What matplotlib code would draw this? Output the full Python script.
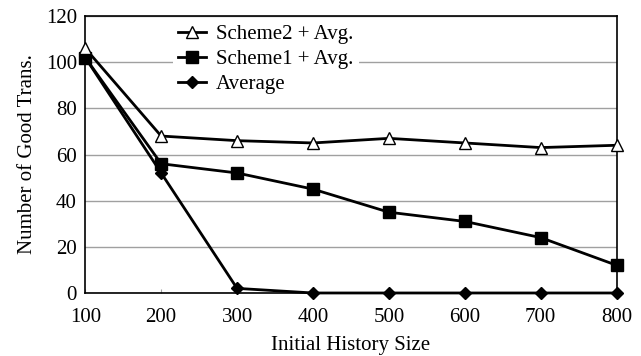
import matplotlib.pyplot as plt
import numpy as np

plt.rcParams.update({
    "font.family": "serif",
    "font.serif": ["Liberation Serif"],
})

history_size = [100, 200, 300, 400, 500, 600, 700, 800]
scheme2_avg = [106, 68, 66, 65, 67, 65, 63, 64]
scheme1_avg = [102, 56, 52, 45, 35, 31, 24, 12]
average = [102, 52, 2, 0, 0, 0, 0, 0]


def plot_good_trans():
    fig, ax = plt.subplots(figsize=(6.41, 3.56), dpi=100)
    fig.subplots_adjust(left=0.133, right=0.962, top=0.955, bottom=0.177)

    ax.plot(history_size, scheme2_avg, color='black', linewidth=2,
            marker='^', markersize=9, markerfacecolor='white',
            markeredgecolor='black', markeredgewidth=1, label='Scheme2 + Avg.',
            clip_on=False, zorder=4)
    ax.plot(history_size, scheme1_avg, color='black', linewidth=2,
            marker='s', markersize=9, label='Scheme1 + Avg.',
            clip_on=False, zorder=3)
    ax.plot(history_size, average, color='black', linewidth=2,
            marker='D', markersize=6, label='Average',
            clip_on=False, zorder=3)

    ax.set_xlim(100, 800)
    ax.set_ylim(0, 120)
    ax.set_xticks(history_size)
    ax.set_yticks(np.arange(0, 121, 20))
    ax.yaxis.grid(True, color='#a0a0a0', linewidth=1)
    ax.set_axisbelow(True)
    ax.tick_params(axis='x', direction='in', length=3, labelsize=15, pad=11,
                   color='#a0a0a0')
    ax.tick_params(axis='y', length=0, labelsize=15, pad=6)
    for s in ax.spines.values():
        s.set_linewidth(1.2)

    ax.set_xlabel('Initial History Size', size=15, labelpad=6)
    ax.set_ylabel('Number of Good Trans.', size=15, labelpad=6)

    leg = ax.legend(loc='upper left', bbox_to_anchor=(0.146, 1.025), frameon=True,
                    fontsize=15, handlelength=1.3, handletextpad=0.5,
                    labelspacing=0.25, borderpad=0.25, fancybox=False)
    leg.get_frame().set_edgecolor('none')
    leg.get_frame().set_facecolor('white')
    leg.get_frame().set_alpha(1)

    plt.savefig("out.png", dpi=100)


if __name__ == "__main__":
    plot_good_trans()
